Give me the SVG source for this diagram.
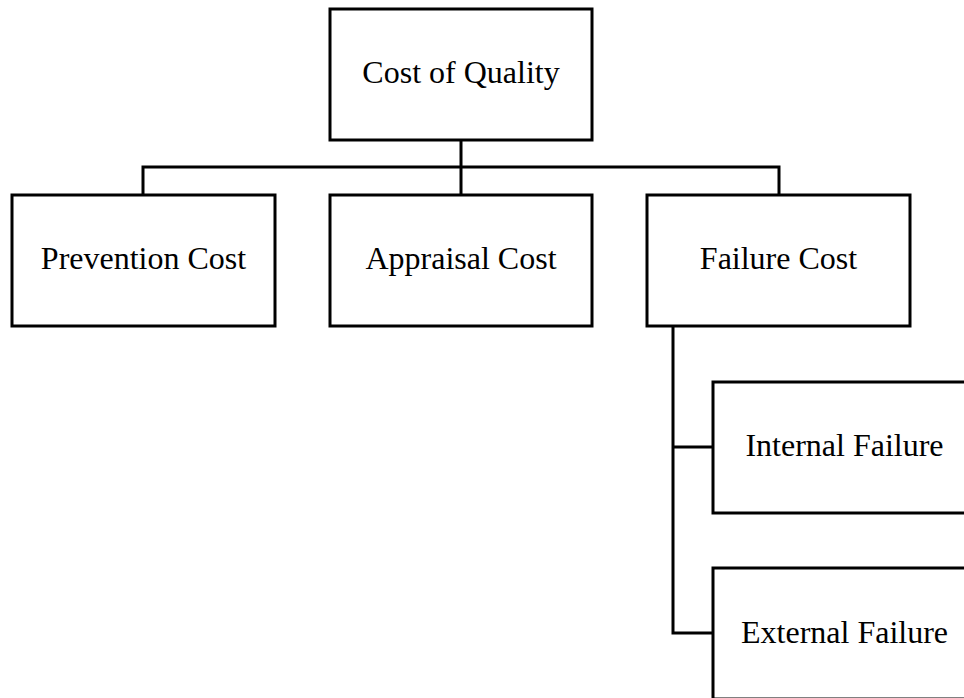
<svg xmlns="http://www.w3.org/2000/svg" width="964" height="698" viewBox="0 0 964 698">
<style>
.box{fill:#fff;stroke:#000;stroke-width:3}
.lbl{font-family:"Liberation Serif","Times New Roman",serif;font-size:32px;fill:#000;text-anchor:middle}
.conn{fill:none;stroke:#000;stroke-width:3}
</style>
<rect width="964" height="698" fill="#fff"/>
<g id="connectors">
<path class="conn" d="M461,140 V195 M143,195 V167 H779 V195 M673,326 V633 H713 M673,447 H713"/>
</g>
<g id="cost-of-quality"><rect class="box" x="330" y="9" width="262" height="131"/><text class="lbl" x="461" y="83">Cost of Quality</text></g>
<g id="prevention-cost"><rect class="box" x="12" y="195" width="263" height="131"/><text class="lbl" x="143.5" y="269">Prevention Cost</text></g>
<g id="appraisal-cost"><rect class="box" x="330" y="195" width="262" height="131"/><text class="lbl" x="461" y="269">Appraisal Cost</text></g>
<g id="failure-cost"><rect class="box" x="647" y="195" width="263" height="131"/><text class="lbl" x="778.5" y="269">Failure Cost</text></g>
<g id="internal-failure"><rect class="box" x="713" y="382" width="263" height="131"/><text class="lbl" x="844.5" y="456">Internal Failure</text></g>
<g id="external-failure"><rect class="box" x="713" y="568" width="263" height="131"/><text class="lbl" x="844.5" y="643">External Failure</text></g>
</svg>
